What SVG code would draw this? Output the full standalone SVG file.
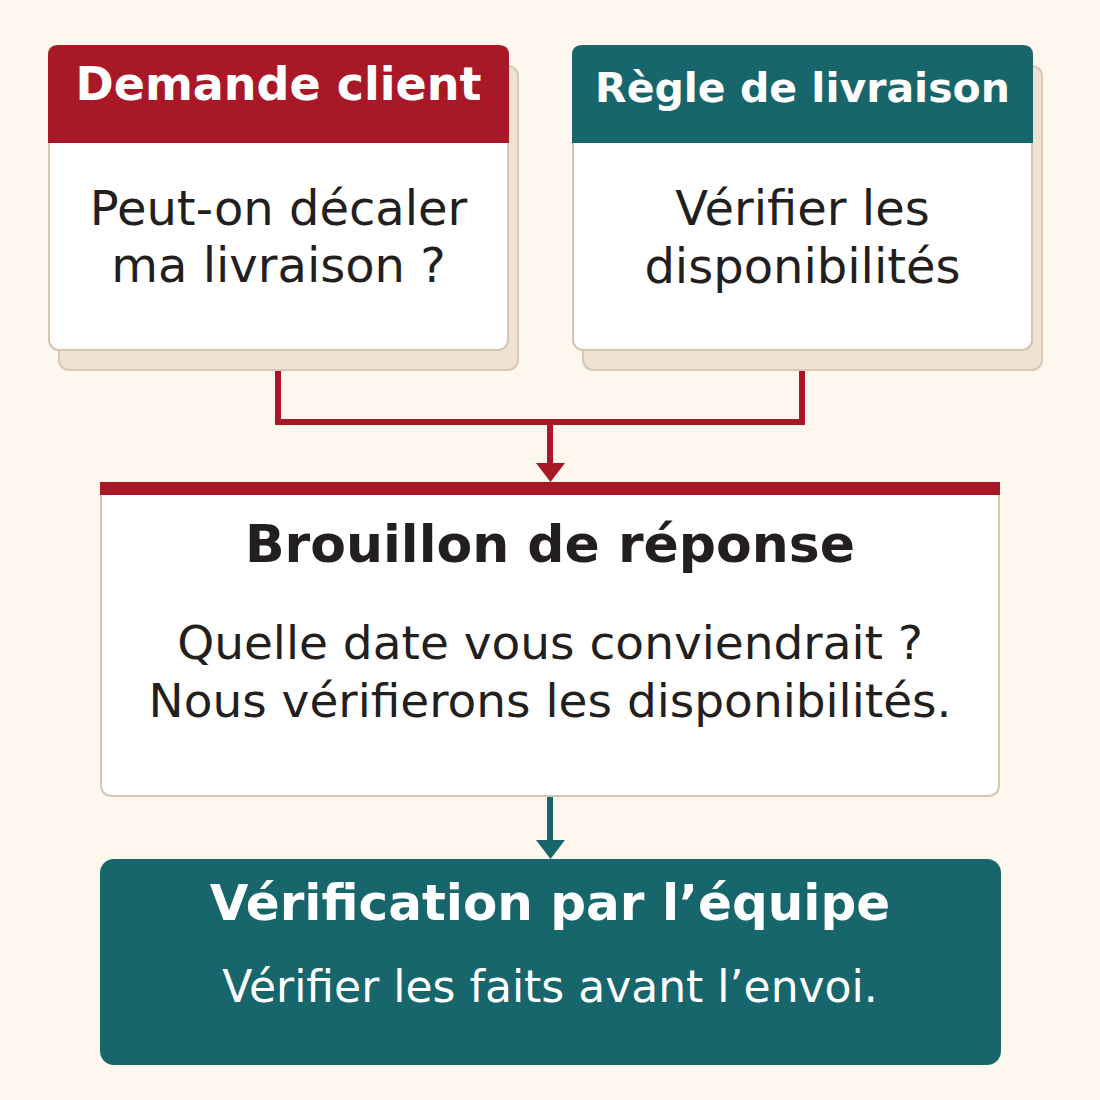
<svg xmlns="http://www.w3.org/2000/svg" width="1100" height="1100" viewBox="0 0 1100 1100">
<style>
.shadow{fill:#EEE2D2;stroke:#D8C8B5;stroke-width:2}
.card{fill:#FFFFFF;stroke:#D5C5B3;stroke-width:2}
.hdr{font-family:"DejaVu Sans",sans-serif;font-weight:bold;fill:#FFFFFF;text-anchor:middle}
.body{font-family:"DejaVu Sans",sans-serif;fill:#231F1E;text-anchor:middle}
.red{stroke:#A91827;stroke-width:6;fill:none}
.teal{stroke:#17666B;stroke-width:6;fill:none}
</style>
<rect width="1100" height="1100" fill="#FDF7EE"/>
<g id="connectors">
<path class="red" d="M278,370 V422 H802 V370"/>
<path class="red" d="M550,422 V466"/>
<path d="M536,463 L565,463 L550.5,482 Z" fill="#A91827"/>
<path class="teal" d="M550,797 V843"/>
<path d="M536,840 L565,840 L550.5,859 Z" fill="#17666B"/>
</g>
<g id="demande">
<rect class="shadow" x="59" y="66" width="459" height="304" rx="10"/>
<rect class="card" x="49" y="46" width="459" height="304" rx="10"/>
<path d="M48,143 V55 Q48,45 58,45 H499 Q509,45 509,55 V143 Z" fill="#A91827"/>
<text class="hdr" x="278.5" y="100" font-size="46">Demande client</text>
<text class="body" x="278.5" y="225" font-size="48">Peut-on décaler</text>
<text class="body" x="278.5" y="282" font-size="48">ma livraison ?</text>
</g>
<g id="regle">
<rect class="shadow" x="583" y="66" width="459" height="304" rx="10"/>
<rect class="card" x="573" y="46" width="459" height="304" rx="10"/>
<path d="M572,143 V55 Q572,45 582,45 H1023 Q1033,45 1033,55 V143 Z" fill="#17666B"/>
<text class="hdr" x="802.5" y="102" font-size="41">Règle de livraison</text>
<text class="body" x="802.5" y="225" font-size="48">Vérifier les</text>
<text class="body" x="802.5" y="283" font-size="48">disponibilités</text>
</g>
<g id="brouillon">
<path class="card" d="M101,489 V784 Q101,796 113,796 H987 Q999,796 999,784 V489"/>
<rect x="100" y="482" width="900" height="13" fill="#A91827"/>
<text class="body" x="550" y="562" font-size="52" font-weight="bold">Brouillon de réponse</text>
<text class="body" x="550" y="659" font-size="47">Quelle date vous conviendrait ?</text>
<text class="body" x="550" y="717" font-size="47">Nous vérifierons les disponibilités.</text>
</g>
<g id="verification">
<rect x="100" y="859" width="901" height="206" rx="14" fill="#17666B"/>
<text class="hdr" x="550" y="920" font-size="50">Vérification par l’équipe</text>
<text x="550" y="1002" font-size="44" font-family="DejaVu Sans,sans-serif" fill="#FFFFFF" text-anchor="middle">Vérifier les faits avant l’envoi.</text>
</g>
</svg>
